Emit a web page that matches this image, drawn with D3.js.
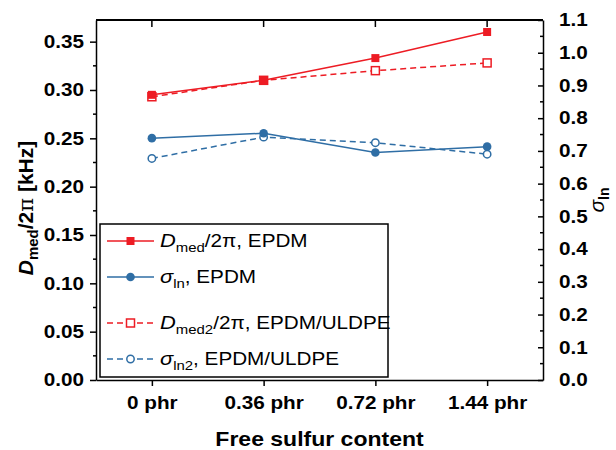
<!DOCTYPE html>
<html>
<head>
<meta charset="utf-8">
<script src="https://cdn.jsdelivr.net/npm/d3@7"></script>
<style>
  body { margin: 0; background: #fff; }
  text { font-family: "Liberation Sans", Arial, sans-serif; }
</style>
</head>
<body>
<div id="viz"><svg width="616" height="450"></svg></div>
<script>
// values
const categories = ["0 phr", "0.36 phr", "0.72 phr", "1.44 phr"]
const dmedEPDM = [0.295, 0.310, 0.333, 0.360]
const dmed2Blend = [0.293, 0.310, 0.320, 0.328]
const sigmaEPDM = [0.739, 0.754, 0.695, 0.713]
const sigma2Blend = [0.677, 0.742, 0.725, 0.690]
const leftTicks = [0, 0.05, 0.10, 0.15, 0.20, 0.25, 0.30, 0.35]
const rightTicks = [0, 0.1, 0.2, 0.3, 0.4, 0.5, 0.6, 0.7, 0.8, 0.9, 1.0, 1.1]

const red = "#ed1c24"
const blue = "#2f6ea5"
const sx = 1.15   // glyphs in the figure are a bit wide

const svg = d3.select("#viz").select("svg")
const L = 96, R = 543, T = 20, B = 380

const x = d3.scalePoint().domain(categories).range([L, R]).padding(0.5)
const yL = d3.scaleLinear().domain([0, 0.3724]).range([B, T])
const yR = d3.scaleLinear().domain([0, 1.1]).range([B, T])

function styleAxis(g, size){
    g.selectAll("path, line").attr("stroke", "#000").attr("stroke-width", 1.5)
    g.selectAll("text")
        .attr("font-size", size)
        .attr("font-weight", "bold")
        .attr("fill", "#000")
        .attr("transform", "scale(" + sx + ",1)")
}

// minor ticks
const minorL = d3.range(0.025, 0.37, 0.05)
svg.append("g").selectAll("line")
    .data(minorL).enter().append("line")
    .attr("x1", L - 3).attr("x2", L)
    .attr("y1", d => yL(d)).attr("y2", d => yL(d))
    .attr("stroke", "#000").attr("stroke-width", 1.5)
const minorR = d3.range(0.05, 1.1, 0.1)
svg.append("g").selectAll("line")
    .data(minorR).enter().append("line")
    .attr("x1", R - 3).attr("x2", R)
    .attr("y1", d => yR(d)).attr("y2", d => yR(d))
    .attr("stroke", "#000").attr("stroke-width", 1.5)

svg.append("g")
    .attr("transform", "translate(0," + B + ")")
    .call(d3.axisBottom(x).tickSize(6).tickSizeOuter(0).tickPadding(10))
    .call(g => styleAxis(g, 18))

svg.append("g")
    .attr("transform", "translate(" + L + ",0)")
    .call(d3.axisLeft(yL).tickValues(leftTicks).tickSize(6).tickSizeOuter(0)
        .tickPadding(4.5).tickFormat(d3.format(".2f")))
    .call(g => styleAxis(g, 18))

svg.append("g")
    .attr("transform", "translate(" + R + ",0)")
    .call(d3.axisRight(yR).tickValues(rightTicks).tickSize(-5).tickSizeOuter(0)
        .tickPadding(14).tickFormat(d3.format(".1f")))
    .call(g => styleAxis(g, 18))

// series
const series = [
    {vals: dmedEPDM, y: yL, color: red, dash: null, shape: "square", filled: true},
    {vals: sigmaEPDM, y: yR, color: blue, dash: null, shape: "circle", filled: true},
    {vals: dmed2Blend, y: yL, color: red, dash: "6,4", shape: "square", filled: false},
    {vals: sigma2Blend, y: yR, color: blue, dash: "6,4", shape: "circle", filled: false}
]

function drawMarker(g, s, cx, cy){
    if (s.shape == "square") {
        g.append("rect")
            .attr("x", cx - 4).attr("y", cy - 4)
            .attr("width", 8).attr("height", 8)
            .attr("fill", s.filled ? s.color : "#fff")
            .attr("stroke", s.color).attr("stroke-width", s.filled ? 0 : 1.5)
    } else {
        g.append("circle")
            .attr("cx", cx).attr("cy", cy)
            .attr("r", s.filled ? 4.3 : 3.7)
            .attr("fill", s.filled ? s.color : "#fff")
            .attr("stroke", s.color).attr("stroke-width", s.filled ? 0 : 1.5)
    }
}

const plotG = svg.append("g")
series.slice().reverse().forEach(s => {
    const line = d3.line().x((d, i) => x(categories[i])).y(d => s.y(d))
    plotG.append("path")
        .datum(s.vals)
        .attr("d", line)
        .attr("fill", "none")
        .attr("stroke", s.color)
        .attr("stroke-width", 1.5)
        .attr("stroke-dasharray", s.dash)
    s.vals.forEach((v, i) => drawMarker(plotG, s, x(categories[i]), s.y(v)))
})

// legend
const legend = svg.append("g")
legend.append("rect")
    .attr("x", 100).attr("y", 224).attr("width", 288).attr("height", 153)
    .attr("fill", "#fff").attr("stroke", "#000").attr("stroke-width", 1.5)

const legendRows = [241, 277, 323, 359]
const legendLabels = [
    [["D", "it"], ["med", "sub"], ["/2π, EPDM", ""]],
    [["σ", "it"], ["ln", "sub"], [", EPDM", ""]],
    [["D", "it"], ["med2", "sub"], ["/2π, EPDM/ULDPE", ""]],
    [["σ", "it"], ["ln2", "sub"], [", EPDM/ULDPE", ""]]
]

series.forEach((s, i) => {
    const ly = legendRows[i]
    legend.append("line")
        .attr("x1", 107).attr("x2", 154).attr("y1", ly).attr("y2", ly)
        .attr("stroke", s.color).attr("stroke-width", 1.5)
        .attr("stroke-dasharray", s.dash)
    drawMarker(legend, s, 130.5, ly)

    const t = legend.append("text")
        .attr("transform", "translate(160," + (ly + 6) + ") scale(" + sx + ",1)")
        .attr("font-size", 18)
        .attr("fill", "#000")
    let shift = 0
    legendLabels[i].forEach(p => {
        const ts = t.append("tspan").text(p[0])
        if (p[1] == "it") ts.attr("font-style", "italic").attr("font-size", 19)
        if (p[1] == "sub") { ts.attr("font-size", 13).attr("dy", 5); shift = 5 }
        else if (shift) { ts.attr("dy", -shift); shift = 0 }
    })
})

// axis titles
svg.append("text")
    .attr("transform", "translate(319.5,446) scale(" + sx + ",1)")
    .attr("text-anchor", "middle")
    .attr("font-size", 20).attr("font-weight", "bold")
    .text("Free sulfur content")

const yTitle = svg.append("text")
    .attr("transform", "translate(33,208) rotate(-90)")
    .attr("text-anchor", "middle")
    .attr("font-size", 21).attr("font-weight", "bold")
yTitle.append("tspan").attr("font-style", "italic").text("D")
yTitle.append("tspan").attr("font-size", 15).attr("dy", 5).text("med")
yTitle.append("tspan").attr("dy", -5).text("/2")
yTitle.append("tspan").attr("font-weight", "normal").attr("font-family", "DejaVu Serif").text("π")
yTitle.append("tspan").text(" [kHz]")

const rTitle = svg.append("text")
    .attr("transform", "translate(604,200) rotate(-90)")
    .attr("text-anchor", "middle")
    .attr("font-size", 21)
rTitle.append("tspan").attr("font-style", "italic").text("σ")
rTitle.append("tspan").attr("font-size", 14).attr("font-weight", "bold").attr("dy", 5).text("ln")

// top axis last: ticks point into the plot
svg.append("g").selectAll("line")
    .data(categories).enter().append("line")
    .attr("x1", d => x(d)).attr("x2", d => x(d))
    .attr("y1", T).attr("y2", T + 7)
    .attr("stroke", "#000").attr("stroke-width", 1.5)
svg.append("line")
    .attr("x1", L).attr("x2", R).attr("y1", T).attr("y2", T)
    .attr("stroke", "#000").attr("stroke-width", 1.8)
</script>
</body>
</html>
